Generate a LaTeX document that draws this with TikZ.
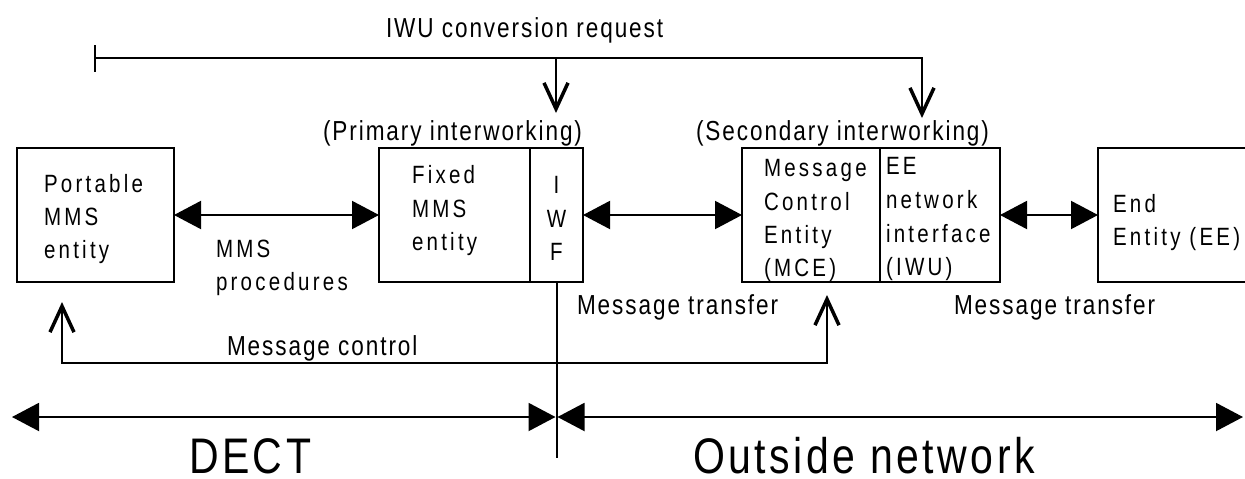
\documentclass[tikz,border=0pt]{standalone}
\usepackage{fontspec}
\setmainfont{Liberation Sans}[FakeStretch=0.82]
\newfontfamily\boxfont{Liberation Sans}[FakeStretch=0.82,LetterSpace=13]
\newfontfamily\lblfont{Liberation Sans}[FakeStretch=0.82,LetterSpace=7]
\newfontfamily\bigfont{Liberation Sans}[FakeStretch=0.82,LetterSpace=7]
\usetikzlibrary{arrows.meta}
\tikzset{
  blk/.style={draw, line width=2pt, inner sep=0pt, outer sep=0pt, anchor=north west, minimum height=134pt},
  btxt/.style={anchor=base west, inner sep=0pt, font=\boxfont\fontsize{25}{30}\selectfont},
  ctxt/.style={anchor=base, inner sep=0pt, font=\boxfont\fontsize{25}{30}\selectfont},
  ltxt/.style={anchor=base west, inner sep=0pt, font=\lblfont\fontsize{27.5}{33}\selectfont},
  bigtxt/.style={anchor=base west, inner sep=0pt, font=\bigfont\fontsize{50}{56}\selectfont},
  dblarrow/.style={{Triangle[length=27pt,width=28pt]}-{Triangle[length=27pt,width=28pt]}},
  downarrow/.style={-{Straight Barb[length=26pt,width=24pt,line width=3.5pt]}},
  barbboth/.style={{Straight Barb[length=26pt,width=24pt,line width=3.5pt]}-{Straight Barb[length=26pt,width=24pt,line width=3.5pt]}},
}
\begin{document}
\begin{tikzpicture}[x=1pt,y=-1pt,line width=2pt]
\useasboundingbox (0,0) rectangle (1245,479);

% boxes
\node[blk, minimum width=157pt] (portable) at (17,148) {};
\node[blk, minimum width=151pt] (fmms) at (379,148) {};
\node[blk, minimum width=53pt] (iwf) at (530,148) {};
\node[blk, minimum width=138pt] (mce) at (742,148) {};
\node[blk, minimum width=120pt] (iwu) at (880,148) {};
\node[blk, minimum width=152pt] (endbox) at (1098,148) {};

% box texts
\node[btxt] (p1) at (43,192) {Portable};
\node[btxt] (p2) at (43,225) {MMS};
\node[btxt] (p3) at (43,258) {entity};
\node[btxt] (f1) at (411,183) {Fixed};
\node[btxt] (f2) at (411,217) {MMS};
\node[btxt] (f3) at (411,250) {entity};
\node[ctxt] (i1) at (556.5,193) {I};
\node[ctxt] (i2) at (556.5,227) {W};
\node[ctxt] (i3) at (556.5,260) {F};
\node[btxt] (m1) at (763,176) {Message};
\node[btxt] (m2) at (763,210) {Control};
\node[btxt] (m3) at (763,243) {Entity};
\node[btxt] (m4) at (763,276) {(MCE)};
\node[btxt] (u1) at (885,174) {EE};
\node[btxt] (u2) at (885,208) {network};
\node[btxt] (u3) at (885,242) {interface};
\node[btxt] (u4) at (885,275) {(IWU)};
\node[btxt] (e1) at (1112,212) {End};
\node[btxt] (e2) at (1112,245) {Entity (EE)};

% labels
\node[ltxt] (conv) at (385,37) {IWU conversion request};
\node[ltxt] (prim) at (322,140) {(Primary interworking)};
\node[ltxt] (sec) at (695,140) {(Secondary interworking)};
\node[btxt] (mms1) at (215,257) {MMS};
\node[btxt] (mms2) at (215,290) {procedures};
\node[ltxt] (mt1) at (576,314) {Message transfer};
\node[ltxt] (mt2) at (953,314) {Message transfer};
\node[ltxt] (mctl) at (226,355) {Message control};
\node[bigtxt] (dect) at (188,473) {DECT};
\node[bigtxt] (outn) at (692,473) {Outside network};

% horizontal double arrows between boxes
\draw[dblarrow] (portable.east) -- (fmms.west);
\draw[dblarrow] (iwf.east) -- (mce.west);
\draw[dblarrow] (iwu.east) -- (endbox.west);

% IWU conversion request lines
\coordinate (tick1) at (95,45);
\coordinate (tick2) at (95,72);
\coordinate (tl) at (95,58);
\coordinate (tr) at (922,58);
\coordinate (a1s) at (556,58);
\coordinate (a1e) at (556,113);
\coordinate (a2e) at (922,118);
\draw (tick1) -- (tick2);
\draw[downarrow] (tl) -- (tr) -- (a2e);
\draw[downarrow] (a1s) -- (a1e);

% message control
\coordinate (pc) at (62,302);
\coordinate (mcl) at (62,363);
\coordinate (mc) at (827,295);
\draw[barbboth] (pc) -- (mcl) -| (mc);

% divider line
\coordinate (iwfend) at (556.5,458);
\draw (iwf.south) -- (iwfend);

% DECT / outside network arrows
\coordinate (dl) at (12,417);
\coordinate (dm) at (555.5,417);
\coordinate (dm2) at (557.5,417);
\coordinate (dr) at (1243,417);
\draw[dblarrow] (dl) -- (dm);
\draw[dblarrow] (dm2) -- (dr);
\end{tikzpicture}
\end{document}
